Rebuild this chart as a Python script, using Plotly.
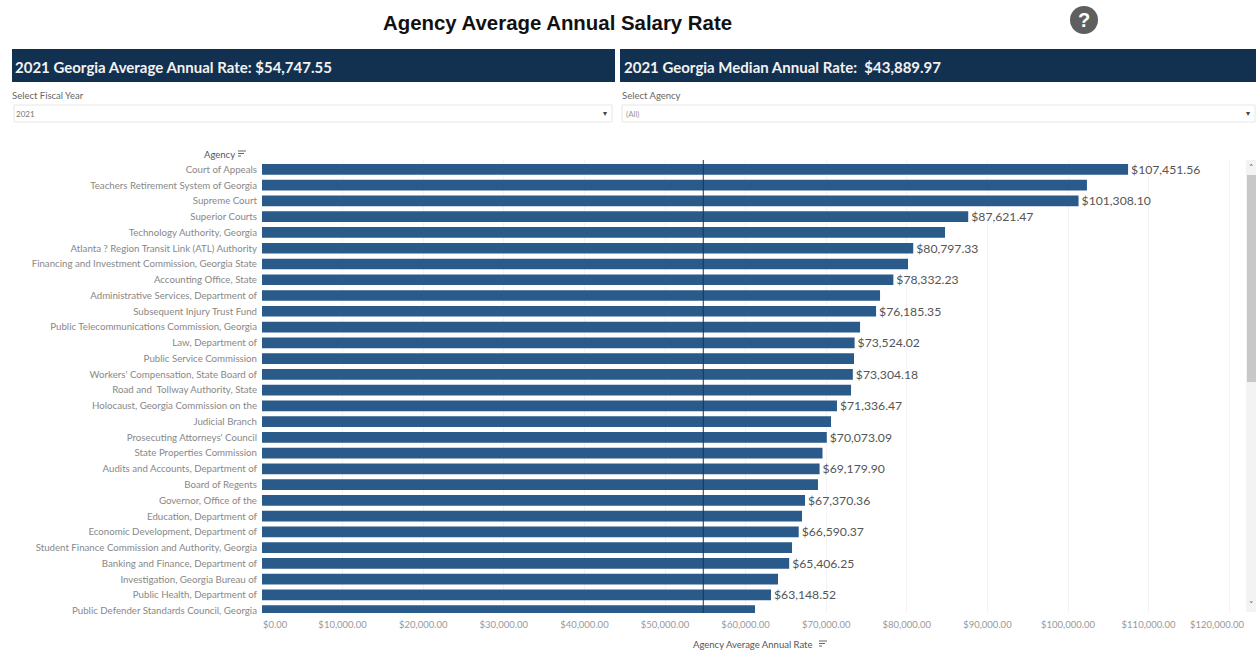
import plotly.graph_objects as go

agencies = [
    "Court of Appeals", "Teachers Retirement System of Georgia", "Supreme Court", "Superior Courts",
    "Technology Authority, Georgia", "Atlanta ? Region Transit Link (ATL) Authority",
    "Financing and Investment Commission, Georgia State", "Accounting Office, State",
    "Administrative Services, Department of", "Subsequent Injury Trust Fund",
    "Public Telecommunications Commission, Georgia", "Law, Department of", "Public Service Commission",
    "Workers' Compensation, State Board of", "Road and  Tollway Authority, State",
    "Holocaust, Georgia Commission on the", "Judicial Branch", "Prosecuting Attorneys' Council",
    "State Properties Commission", "Audits and Accounts, Department of", "Board of Regents",
    "Governor, Office of the", "Education, Department of", "Economic Development, Department of",
    "Student Finance Commission and Authority, Georgia", "Banking and Finance, Department of",
    "Investigation, Georgia Bureau of", "Public Health, Department of",
    "Public Defender Standards Council, Georgia",
]
rates = [
    107451.56, 102350, 101308.10, 87621.47, 84740, 80797.33, 80150, 78332.23, 76680, 76185.35,
    74200, 73524.02, 73450, 73304.18, 73080, 71336.47, 70600, 70073.09, 69540, 69179.90, 68980,
    67370.36, 67000, 66590.37, 65760, 65406.25, 64020, 63148.52, 61170,
]
labelled = [1, 0, 1, 1, 0, 1, 0, 1, 0, 1, 0, 1, 0, 1, 0, 1, 0, 1, 0, 1, 0, 1, 0, 1, 0, 1, 0, 1, 0]
bar_text = [f"${v:,.2f}" if s else "" for v, s in zip(rates, labelled)]
tick_values = [0, 10000, 20000, 30000, 40000, 50000, 60000, 70000, 80000, 90000, 100000, 110000, 120000]
tick_labels = ["", "$10,000.00", "$20,000.00", "$30,000.00", "$40,000.00", "$50,000.00", "$60,000.00",
               "$70,000.00", "$80,000.00", "$90,000.00", "$100,000.00", "$110,000.00", ""]
state_average = 54747.55

W, H = 1256, 650
px = lambda x: x / W
py = lambda y: 1 - y / 647
NAVY = "#12304f"
BAR = "#2a5a8a"
FONT = "Lato"

fig = go.Figure(go.Bar(
    x=rates, y=agencies, orientation="h", marker=dict(color=BAR, line=dict(width=0)),
    text=bar_text, textposition="outside", cliponaxis=True, constraintext="none",
    textfont=dict(family=FONT, size=12.2, color="#555555"), width=0.68,
    hovertemplate="%{y}: $%{x:,.2f}<extra></extra>",
))

shapes = []
annots = []


def rect(x0, y0, x1, y1, fill, line=None):
    shapes.append(dict(type="rect", xref="paper", yref="paper", x0=px(x0), x1=px(x1), y0=py(y0), y1=py(y1),
                       fillcolor=fill, line=dict(width=1 if line else 0, color=line or fill), layer="below"))


def text(x, y, s, size, color, anchor="left", family=FONT, bold=False):
    annots.append(dict(xref="paper", yref="paper", x=px(x), y=py(y), text=f"<b>{s}</b>" if bold else s,
                       showarrow=False, xanchor=anchor, yanchor="middle",
                       font=dict(family=family, size=size, color=color)))


def sort_icon(x, y):
    for i, w in enumerate([8, 6, 3]):
        shapes.append(dict(type="line", xref="paper", yref="paper", x0=px(x), x1=px(x + w),
                           y0=py(y + i * 2.5), y1=py(y + i * 2.5), line=dict(color="#666666", width=1)))


text(557, 23, "Agency Average Annual Salary Rate", 20.4, "#111111", "center", "Liberation Sans", True)

shapes.append(dict(type="circle", xref="paper", yref="paper", x0=px(1070), x1=px(1098), y0=py(34), y1=py(6),
                   fillcolor="#5f5f5f", line=dict(width=0)))
text(1084, 20, "?", 20, "white", "center", "Liberation Sans", True)

rect(12, 49, 615, 82, NAVY)
rect(620, 49, 1256, 82, NAVY)
text(13, 67, "2021 Georgia Average Annual Rate: $54,747.55", 15, "#f2f2f2", bold=True)
text(622, 67, "2021 Georgia Median Annual Rate:  $43,889.97", 15, "#f2f2f2", bold=True)

text(10, 95, "Select Fiscal Year", 9.5, "#666666")
text(620, 95, "Select Agency", 9.5, "#666666")
rect(14, 105, 612, 122, "#ffffff", "#e6e6e6")
rect(622, 105, 1255, 122, "#ffffff", "#e6e6e6")
text(14, 113.5, "2021", 8, "#777777")
text(624, 113.5, "(All)", 8, "#999999")
text(605, 113.5, "▾", 8, "#444444", "center", "DejaVu Sans")
text(1248, 113.5, "▾", 8, "#444444", "center", "DejaVu Sans")

text(202, 154, "Agency", 9.5, "#555555")
sort_icon(238, 151)
text(691, 644, "Agency Average Annual Rate", 9.5, "#555555")
sort_icon(819, 641)

rect(1246, 160, 1256, 612, "#f3f3f3")
rect(1247, 175, 1256, 382, "#c8c8c8")
text(1251, 168, "˄", 9, "#555555", "center", "DejaVu Sans")
text(1251, 605, "˅", 9, "#555555", "center", "DejaVu Sans")

# end labels of the value axis sit inside the view, as in the reference
annots.append(dict(xref="x", yref="paper", x=tick_values[0], y=py(624), text="$0.00", showarrow=False,
                   xanchor="center", xshift=13, yanchor="middle", font=dict(family=FONT, size=9.5, color="#999999")))
annots.append(dict(xref="x", yref="paper", x=tick_values[-1], y=py(624), text="$120,000.00", showarrow=False,
                   xanchor="center", xshift=-12, yanchor="middle", font=dict(family=FONT, size=9.5, color="#999999")))

fig.update_layout(
    width=W, height=H, margin=dict(l=0, r=0, t=0, b=0), paper_bgcolor="white", plot_bgcolor="white",
    showlegend=False, shapes=shapes, annotations=annots,
    xaxis=dict(domain=[px(262), px(1246)], range=[0, 122084], tickvals=tick_values, ticktext=tick_labels,
               showgrid=True, gridcolor="#f4f4f4", gridwidth=1, zeroline=False, showline=False, ticks="",
               tickfont=dict(family=FONT, size=9.5, color="#999999"), anchor="y", ticklabelstandoff=4),
    yaxis=dict(domain=[py(613), py(160)], range=[28.15, -0.6], type="category", tickmode="array",
               tickvals=agencies, ticktext=agencies, showgrid=False, zeroline=False, showline=False, ticks="",
               tickfont=dict(family=FONT, size=9.7, color="#888888"), ticklabelstandoff=4),
)
fig.add_shape(type="line", xref="x", yref="y domain", x0=state_average, x1=state_average, y0=0, y1=1,
              line=dict(color="#1c3447", width=1), layer="above")

fig.write_html("out.html", config={"displayModeBar": False},
               post_script="document.body.style.margin='0';document.documentElement.style.overflow='hidden';document.body.style.overflow='hidden';document.body.style.height='650px';")
